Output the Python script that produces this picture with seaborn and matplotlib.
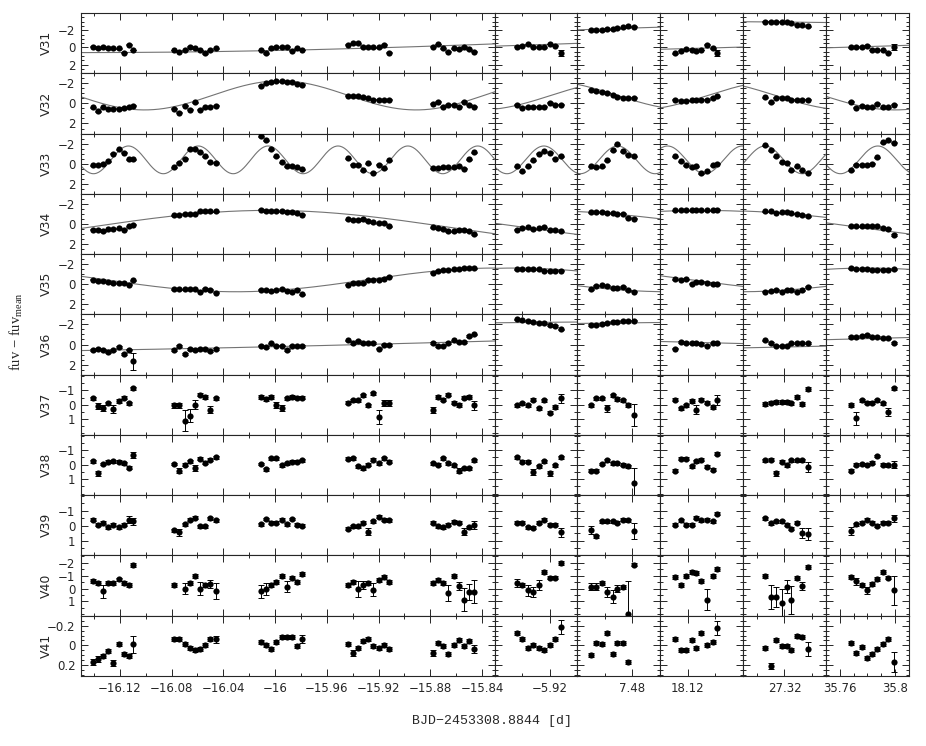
import numpy as np
import pandas as pd
import seaborn as sns
import matplotlib.pyplot as plt
from matplotlib.ticker import FixedLocator, MultipleLocator, FuncFormatter

sns.set_style("ticks")
plt.rcParams['font.family'] = ['DejaVu Sans']
plt.rcParams['mathtext.fontset'] = 'custom'
plt.rcParams['mathtext.rm'] = 'Liberation Serif'

nan = np.nan
stars = ["V31", "V32", "V33", "V34", "V35", "V36", "V37", "V38", "V39", "V40", "V41"]

# observation times: 5 runs in the wide panel, then one run per narrow panel
t_groups = [
    [-16.141, -16.137, -16.133, -16.129, -16.125, -16.121, -16.117, -16.113, -16.110],
    [-16.078, -16.074, -16.070, -16.066, -16.062, -16.058, -16.054, -16.050, -16.046],
    [-16.011, -16.007, -16.003, -15.999, -15.995, -15.991, -15.987, -15.983, -15.979],
    [-15.944, -15.940, -15.936, -15.932, -15.928, -15.924, -15.920, -15.916, -15.912],
    [-15.878, -15.874, -15.870, -15.866, -15.862, -15.858, -15.854, -15.850, -15.846],
    [-5.944, -5.940, -5.936, -5.932, -5.928, -5.924, -5.920, -5.916, -5.912],
    [7.450, 7.454, 7.458, 7.462, 7.466, 7.469, 7.473, 7.477, 7.481],
    [18.111, 18.115, 18.119, 18.123, 18.126, 18.130, 18.134, 18.138, 18.141],
    [27.306, 27.310, 27.314, 27.318, 27.322, 27.325, 27.329, 27.333, 27.337],
    [35.768, 35.772, 35.776, 35.780, 35.783, 35.787, 35.791, 35.795, 35.799],
]

mag_V31 = [
    [-0.1, 0.1, 0.0, 0.1, 0.1, 0.1, 0.6, -0.3, 0.3],
    [0.3, 0.5, 0.3, -0.1, 0.1, 0.3, 0.7, 0.3, 0.1],
    [0.3, 0.7, 0.1, -0.1, 0.0, -0.1, 0.4, 0.1, 0.3],
    [-0.3, -0.5, -0.5, -0.1, 0.0, 0.0, 0.0, -0.3, 0.6],
    [-0.1, -0.4, 0.1, 0.5, 0.1, 0.2, -0.1, 0.2, 0.5],
    [-0.1, -0.2, -0.4, -0.1, 0.0, 0.0, -0.4, -0.2, 0.6],
    [-2.0, -2.0, -2.0, -2.1, -2.1, -2.2, -2.35, -2.45, -2.4],
    [0.7, 0.4, 0.2, 0.3, 0.4, 0.3, -0.3, 0.1, 0.6],
    [-3.0, -3.0, -3.0, -2.95, -2.95, -2.8, -2.65, -2.55, -2.45],
    [0.0, 0.0, -0.1, -0.2, 0.3, 0.3, 0.3, 0.6, -0.1],
]
mag_V32 = [
    [0.4, 0.8, 0.4, 0.55, 0.55, 0.55, 0.45, 0.4, 0.25],
    [0.55, 0.95, 0.25, 0.65, -0.1, 0.65, 0.4, 0.35, 0.25],
    [-1.75, -2.0, -2.15, -2.2, -2.2, -2.15, -2.1, -1.95, -1.85],
    [-0.75, -0.75, -0.7, -0.6, -0.5, -0.35, -0.35, -0.35, -0.35],
    [0.05, -0.15, 0.35, 0.15, 0.15, 0.35, -0.15, 0.15, 0.35],
    [0.15, 0.45, 0.35, 0.35, 0.35, 0.35, -0.05, 0.15, 0.15],
    [-1.35, -1.2, -1.1, -1.05, -0.85, -0.65, -0.55, -0.55, -0.55],
    [-0.35, -0.25, -0.25, -0.3, -0.3, -0.35, -0.35, -0.55, -0.7],
    [-0.6, -0.1, -0.55, -0.55, -0.55, -0.35, -0.35, -0.35, -0.35],
    [-0.15, 0.45, 0.25, 0.4, 0.4, 0.05, 0.4, 0.4, 0.15],
]
mag_V33 = [
    [0.15, 0.1, 0.05, -0.25, -1.0, -1.45, -1.1, -0.45, -0.45],
    [0.35, -0.1, -0.5, -1.45, -1.45, -1.15, -0.75, -0.15, -0.1],
    [-2.75, -2.35, -1.45, -0.75, -0.15, 0.25, 0.25, 0.35, 0.55],
    [-0.55, 0.1, 0.1, 0.65, -0.05, 0.9, 0.1, 0.45, -0.35],
    [0.45, 0.45, 0.35, 0.35, 0.35, 0.25, 0.5, -0.45, -1.15],
    [0.25, 0.75, 0.25, -0.35, -1.0, -1.25, -1.1, -0.5, -0.75],
    [0.25, 0.35, 0.25, -0.35, -1.35, -1.95, -1.25, -0.9, -0.75],
    [-0.75, -0.25, 0.15, 0.35, 0.25, 0.95, 0.75, 0.15, 0.0],
    [-1.85, -1.35, -0.75, -0.15, -0.1, 0.65, 0.25, 0.65, 0.9],
    [0.65, 0.1, 0.1, 0.1, 0.0, -0.65, -2.15, -2.35, -2.1],
]
mag_V34 = [
    [0.6, 0.6, 0.75, 0.55, 0.5, 0.45, 0.6, 0.25, 0.1],
    [-0.85, -0.9, -1.0, -1.0, -1.0, -1.25, -1.25, -1.25, -1.25],
    [-1.4, -1.25, -1.25, -1.25, -1.25, -1.2, -1.15, -1.05, -0.9],
    [-0.45, -0.4, -0.35, -0.5, -0.25, -0.15, -0.05, -0.05, 0.25],
    [0.35, 0.45, 0.5, 0.75, 0.75, 0.6, 0.65, 0.75, 1.05],
    [0.6, 0.45, 0.35, 0.55, 0.45, 0.35, 0.65, 0.6, 0.75],
    [-1.15, -1.15, -1.2, -1.1, -1.05, -1.0, -1.0, -0.6, -0.5],
    [-1.35, -1.35, -1.35, -1.35, -1.35, -1.35, -1.35, -1.35, -1.4],
    [-1.25, -1.25, -1.1, -1.15, -1.15, -1.05, -1.0, -0.9, -0.75],
    [0.25, 0.25, 0.25, 0.25, 0.25, 0.25, 0.45, 0.5, 1.1],
]
mag_V35 = [
    [-0.45, -0.35, -0.3, -0.25, -0.1, -0.15, -0.1, 0.05, -0.4],
    [0.5, 0.5, 0.5, 0.5, 0.5, 0.75, 0.45, 0.55, 0.85],
    [0.55, 0.6, 0.65, 0.6, 0.45, 0.65, 0.75, 0.55, 1.0],
    [0.05, -0.15, -0.15, -0.1, -0.45, -0.45, -0.45, -0.55, -0.75],
    [-1.15, -1.35, -1.4, -1.45, -1.5, -1.55, -1.6, -1.6, -1.6],
    [-1.5, -1.5, -1.5, -1.5, -1.5, -1.35, -1.35, -1.35, -1.35],
    [0.5, 0.15, 0.1, 0.15, 0.35, 0.4, 0.25, 0.6, 0.75],
    [-0.5, -0.45, -0.5, -0.05, -0.25, -0.25, -0.15, 0.0, 0.0],
    [0.75, 0.65, 0.55, 0.75, 0.55, 0.6, 0.75, 0.6, 0.25],
    [-1.6, -1.55, -1.5, -1.5, -1.45, -1.45, -1.45, -1.45, -1.5],
]
mag_V36 = [
    [0.55, 0.4, 0.5, 0.75, 0.55, 0.25, 0.95, 0.5, 1.65],
    [0.55, 0.15, 0.95, 0.45, 0.55, 0.45, 0.45, 0.65, 0.45],
    [0.1, 0.25, -0.1, 0.1, 0.1, 0.55, 0.15, 0.15, 0.15],
    [-0.4, -0.15, -0.35, -0.15, -0.15, -0.15, 0.4, 0.0, 0.05],
    [-0.15, 0.15, 0.1, -0.15, -0.4, -0.25, -0.25, -0.85, -1.0],
    [-2.5, -2.4, -2.35, -2.25, -2.15, -2.1, -1.95, -1.85, -1.5],
    [-1.95, -1.95, -2.05, -2.15, -2.25, -2.25, -2.35, -2.35, -2.35],
    [0.4, -0.25, -0.1, -0.1, -0.1, -0.05, 0.1, -0.1, -0.1],
    [-0.4, -0.15, 0.1, 0.1, 0.1, -0.1, -0.15, -0.1, -0.15],
    [-0.75, -0.75, -0.85, -0.95, -0.75, -0.75, -0.6, -0.6, -0.15],
]
mag_V37 = [
    [-0.45, 0.1, 0.25, -0.1, 0.3, -0.25, -0.5, -0.1, -1.15],
    [0.05, 0.05, 1.1, 0.75, 0.0, -0.7, -0.55, 0.35, -0.45],
    [-0.55, -0.4, -0.55, 0.0, 0.25, -0.45, -0.55, -0.5, -0.5],
    [-0.15, -0.3, -0.3, -0.65, 0.05, -0.8, 0.85, -0.1, -0.1],
    [0.35, -0.55, -0.35, -0.7, -0.15, 0.0, -0.5, -0.55, 0.05],
    [0.05, -0.1, 0.05, -0.35, 0.25, -0.3, 0.55, 0.15, -0.45],
    [0.05, -0.45, -0.45, 0.25, -0.65, -0.4, -0.3, 0.0, 0.7],
    [-0.35, 0.25, 0.05, -0.25, 0.35, -0.35, -0.15, 0.15, -0.35],
    [-0.05, -0.15, -0.2, -0.2, -0.2, -0.1, -0.55, -0.05, -1.1],
    [0.0, 0.95, -0.3, -0.15, -0.15, -0.3, -0.1, 0.5, -1.15],
]
mag_V38 = [
    [-0.25, 0.6, -0.05, -0.2, -0.25, -0.2, -0.1, 0.2, -0.65],
    [-0.05, 0.4, 0.0, -0.25, 0.25, -0.4, -0.15, -0.35, -0.5],
    [-0.05, 0.3, -0.45, -0.45, 0.05, -0.1, -0.2, -0.2, -0.3],
    [-0.4, -0.45, 0.1, 0.25, 0.0, -0.35, -0.1, -0.45, -0.2],
    [-0.1, 0.0, -0.45, -0.1, 0.05, 0.4, 0.25, 0.25, -0.3],
    [-0.5, -0.2, -0.2, 0.5, 0.1, -0.25, 0.6, 0.05, -0.5],
    [0.4, 0.4, -0.05, -0.3, -0.1, -0.1, 0.0, 0.1, 1.25],
    [0.4, -0.4, -0.4, 0.1, -0.25, -0.35, 0.15, 0.35, -0.75],
    [-0.3, -0.35, 0.6, -0.2, 0.05, -0.3, -0.3, -0.3, 0.15],
    [0.4, 0.0, -0.05, 0.0, -0.15, -0.6, 0.0, 0.05, 0.0],
]
mag_V39 = [
    [-0.4, -0.05, -0.2, 0.1, -0.05, 0.1, -0.05, -0.4, -0.3],
    [0.3, 0.45, -0.1, -0.4, -0.55, 0.05, 0.05, -0.5, -0.35],
    [-0.1, -0.45, -0.2, -0.2, -0.4, -0.1, -0.45, -0.05, 0.0],
    [0.2, 0.05, 0.05, -0.2, 0.4, -0.3, -0.6, -0.4, -0.35],
    [-0.2, 0.05, 0.1, -0.05, -0.25, -0.2, 0.4, 0.1, -0.05],
    [-0.2, -0.2, 0.1, 0.15, -0.2, -0.4, -0.05, -0.05, 0.45],
    [0.3, 0.7, -0.3, -0.3, -0.3, -0.2, -0.4, -0.35, 0.35],
    [-0.05, -0.35, -0.05, -0.05, -0.55, -0.35, -0.4, -0.3, -0.8],
    [-0.5, -0.15, -0.3, -0.3, -0.05, 0.2, -0.2, 0.5, 0.55],
    [0.35, -0.1, -0.2, -0.4, -0.2, 0.0, -0.2, -0.2, -0.5],
]
mag_V40 = [
    [-0.55, -0.4, 0.2, -0.45, -0.4, -0.7, -0.4, -0.25, -1.8],
    [-0.25, nan, 0.0, -0.4, -1.0, 0.0, -0.3, -0.35, 0.2],
    [0.2, 0.05, -0.3, -0.5, -1.0, -0.15, -0.85, -0.5, -1.1],
    [-0.25, -0.5, 0.05, -0.25, -0.45, 0.1, -0.65, -0.9, -0.5],
    [-0.4, -0.65, -0.4, 0.35, -1.0, -0.2, 0.85, 0.25, 0.25],
    [-0.4, -0.25, 0.15, 0.25, -0.25, -1.25, -0.85, -0.85, -2.0],
    [-0.15, -0.15, -0.45, 0.25, 0.65, 0.0, -0.1, 2.0, -1.85],
    [-0.9, -0.25, -1.0, -1.3, -1.2, -0.55, 0.85, -1.0, -1.5],
    [-1.0, 0.65, 0.65, 1.1, -0.15, 0.9, -0.8, -0.2, -1.65],
    [-0.9, -0.55, -0.3, 0.15, -0.35, -0.75, -1.25, -0.85, 0.15],
]
mag_V41 = [
    [0.167, 0.14, 0.107, 0.057, 0.177, -0.017, 0.083, 0.11, -0.01],
    [-0.067, -0.06, -0.01, 0.027, 0.043, 0.04, -0.007, -0.06, -0.06],
    [-0.033, 0.0, 0.04, -0.033, -0.083, -0.083, -0.083, 0.007, -0.067],
    [-0.01, 0.073, 0.023, -0.04, -0.06, 0.007, 0.027, 0.0, 0.033],
    [0.073, -0.027, 0.007, 0.083, -0.007, -0.057, 0.007, -0.04, 0.033],
    [-0.123, -0.067, 0.027, 0.0, 0.027, 0.043, 0.0, -0.067, -0.19],
    [0.093, -0.027, -0.01, -0.127, 0.083, -0.023, -0.023, 0.167, nan],
    [-0.067, 0.043, 0.043, -0.05, 0.027, -0.123, 0.0, -0.033, -0.173],
    [0.027, 0.21, -0.05, 0.007, 0.01, 0.043, -0.093, -0.083, 0.04],
    [-0.023, 0.077, 0.017, 0.127, 0.083, 0.033, -0.01, -0.06, 0.167],
]

# typical error per star, and the larger individual ones {(run, point): error}
err_base = {"V31": 0.05, "V32": 0.05, "V33": 0.05, "V34": 0.05, "V35": 0.05, "V36": 0.06,
            "V37": 0.12, "V38": 0.1, "V39": 0.1, "V40": 0.15, "V41": 0.02}
bigerr_V31 = {(5, 8): 0.35, (7, 8): 0.35, (9, 8): 0.35}
bigerr_V36 = {(0, 8): 0.85}
bigerr_V37 = {(0, 1): 0.2, (0, 2): 0.2, (0, 4): 0.25, (1, 0): 0.2, (1, 1): 0.2, (1, 2): 0.75,
              (1, 3): 0.45, (1, 4): 0.3, (1, 7): 0.25, (2, 3): 0.2, (2, 4): 0.2, (3, 6): 0.5,
              (3, 7): 0.2, (3, 8): 0.2, (4, 0): 0.2, (4, 8): 0.3, (5, 8): 0.3, (6, 3): 0.25,
              (6, 8): 0.75, (7, 4): 0.3, (7, 8): 0.35, (9, 1): 0.45, (9, 7): 0.25}
bigerr_V38 = {(0, 1): 0.2, (0, 8): 0.2, (1, 1): 0.2, (1, 4): 0.2, (4, 5): 0.2, (5, 3): 0.2,
              (5, 6): 0.2, (6, 8): 1.0, (8, 2): 0.2, (8, 8): 0.35, (9, 8): 0.25}
bigerr_V39 = {(0, 7): 0.25, (0, 8): 0.25, (1, 1): 0.25, (3, 4): 0.25, (4, 6): 0.25, (4, 8): 0.25,
              (5, 8): 0.3, (6, 0): 0.25, (6, 8): 0.55, (8, 7): 0.35, (8, 8): 0.4, (9, 0): 0.25,
              (9, 8): 0.25}
bigerr_V40 = {(0, 2): 0.5, (1, 2): 0.4, (1, 5): 0.5, (1, 7): 0.3, (1, 8): 0.6, (2, 0): 0.5,
              (2, 1): 0.45, (2, 5): 0.4, (3, 2): 0.6, (3, 3): 0.3, (3, 5): 0.5, (4, 3): 0.6,
              (4, 5): 0.3, (4, 6): 0.9, (4, 7): 0.6, (4, 8): 0.9, (5, 0): 0.3, (5, 2): 0.4,
              (5, 3): 0.4, (5, 4): 0.4, (6, 0): 0.3, (6, 1): 0.3, (6, 3): 0.4, (6, 4): 0.5,
              (6, 5): 0.3, (6, 7): 2.6, (7, 6): 0.8, (8, 1): 0.9, (8, 2): 0.8, (8, 3): 1.1,
              (8, 4): 0.5, (8, 5): 1.1, (8, 7): 0.3, (9, 1): 0.25, (9, 3): 0.3, (9, 8): 1.1}
bigerr_V41 = {(0, 0): 0.03, (0, 1): 0.03, (0, 4): 0.03, (0, 8): 0.09, (1, 8): 0.04, (2, 8): 0.04,
              (3, 1): 0.03, (4, 0): 0.03, (4, 8): 0.04, (5, 8): 0.07, (7, 8): 0.07, (8, 1): 0.03,
              (8, 8): 0.07, (9, 8): 0.1}

# sine fits: phase at the centre of each of the 6 panels
fit_V31 = dict(period=1.8, mean=-1.2, amp=1.8, phase=[0.56, 1.05, 2.16, 0.77, -2.9, 0.91])
fit_V32 = dict(period=0.21, mean=-0.8, amp=1.45, phase=[3.32, 1.24, -1.54, 1.43, -1.37, -0.6])
fit_V33 = dict(period=0.054, mean=-0.38, amp=1.38, phase=[4.93, 2.47, 3.21, -0.29, 4.78, 2.27])
fit_V34 = dict(period=0.55, mean=0.3, amp=1.65, phase=[3.31, -1.45, -2.43, 3.14, -2.53, -1.48])
fit_V35 = dict(period=0.4, mean=-0.43, amp=1.18, phase=[0.63, -2.9, -0.59, -1.46, 0.52, 3.14])
fit_V36 = dict(period=2.75, mean=-0.7, amp=1.6, phase=[0.985, 2.79, 2.70, -1.25, 0.935, 1.5])

col_xlim = [(-16.15, -15.83), (-5.96, -5.90), (7.44, 7.50), (18.10, 18.16), (27.29, 27.35), (35.75, 35.81)]
col_major = [[-16.12, -16.08, -16.04, -16.0, -15.96, -15.92, -15.88, -15.84],
             [-5.92], [7.48], [18.12], [27.32], [35.76, 35.80]]
col_minor = [[-16.14, -16.10, -16.06, -16.02, -15.98, -15.94, -15.90, -15.86],
             [-5.94], [7.46], [18.14], [27.30, 27.34], [35.77, 35.78, 35.79]]

row_ylim = {"V31": (3, -4), "V32": (3, -3), "V33": (3, -3), "V34": (3, -3), "V35": (3, -3),
            "V36": (3, -3), "V37": (2.1, -2.1), "V38": (2.1, -2.05), "V39": (2.0, -2.05),
            "V40": (2.1, -2.55), "V41": (0.31, -0.3)}
row_yticks = {"V31": [-2, 0, 2], "V32": [-2, 0, 2], "V33": [-2, 0, 2], "V34": [-2, 0, 2],
              "V35": [-2, 0, 2], "V36": [-2, 0, 2], "V37": [-1, 0, 1], "V38": [-1, 0, 1],
              "V39": [-1, 0, 1], "V40": [-2, -1, 0, 1], "V41": [-0.2, 0, 0.2]}

mags = {"V31": mag_V31, "V32": mag_V32, "V33": mag_V33, "V34": mag_V34, "V35": mag_V35,
        "V36": mag_V36, "V37": mag_V37, "V38": mag_V38, "V39": mag_V39, "V40": mag_V40,
        "V41": mag_V41}
bigerrs = {"V31": bigerr_V31, "V36": bigerr_V36, "V37": bigerr_V37, "V38": bigerr_V38,
           "V39": bigerr_V39, "V40": bigerr_V40, "V41": bigerr_V41}
fits = {"V31": fit_V31, "V32": fit_V32, "V33": fit_V33, "V34": fit_V34, "V35": fit_V35,
        "V36": fit_V36}

rows = []
for s in stars:
    for g in range(10):
        for i in range(9):
            rows.append(dict(star=s, col=0 if g < 5 else g - 4, t=t_groups[g][i],
                             mag=mags[s][g][i],
                             err=bigerrs.get(s, {}).get((g, i), err_base[s])))
df = pd.DataFrame(rows)


def fmt(v, pos):
    return f"{v:g}".replace("-", "\u2212")


fig, axes = plt.subplots(11, 6, figsize=(9.26, 7.46), dpi=100,
                         gridspec_kw=dict(width_ratios=[414, 82, 83, 83, 83, 83]))
fig.subplots_adjust(left=0.0875, right=0.9816, top=0.9826, bottom=0.0938, hspace=0, wspace=0)

for r, s in enumerate(stars):
    for c in range(6):
        ax = axes[r, c]
        sub = df[(df.star == s) & (df.col == c)]
        if s in fits:
            p = fits[s]
            tt = np.linspace(col_xlim[c][0], col_xlim[c][1], 400)
            tc = 0.5 * (col_xlim[c][0] + col_xlim[c][1])
            yy = p["mean"] + p["amp"] * np.cos(2 * np.pi * (tt - tc) / p["period"] + p["phase"][c])
            ax.plot(tt, yy, color="0.45", lw=0.8, zorder=1)
        ax.errorbar(sub.t, sub.mag, yerr=sub.err, fmt="none", ecolor="black",
                    elinewidth=0.7, capsize=2, capthick=0.7, zorder=2)
        sns.scatterplot(data=sub, x="t", y="mag", ax=ax, color="black", s=20,
                        linewidth=0, zorder=3, legend=False)
        ax.set_xlabel("")
        ax.set_ylabel("")
        ax.set_xlim(col_xlim[c])
        ax.set_ylim(row_ylim[s])
        ax.xaxis.set_major_locator(FixedLocator(col_major[c]))
        ax.xaxis.set_minor_locator(FixedLocator(col_minor[c]))
        ax.yaxis.set_major_locator(FixedLocator(row_yticks[s]))
        ax.yaxis.set_minor_locator(MultipleLocator(0.05 if s == "V41" else 0.5))
        ax.xaxis.set_major_formatter(FuncFormatter(fmt))
        ax.yaxis.set_major_formatter(FuncFormatter(fmt))
        ax.tick_params(which="both", direction="in", top=True, right=True, width=0.7,
                       labelsize=8.5, labelbottom=(r == 10), labelleft=(c == 0))
        ax.tick_params(which="major", length=5, pad=4)
        ax.tick_params(which="minor", length=2.5)
        for sp in ax.spines.values():
            sp.set_linewidth(0.8)
    axes[r, 0].set_ylabel(s, fontsize=9)
    axes[r, 0].yaxis.set_label_coords(-0.068, 0.5)

fig.text(0.531, 0.034, "BJD\u22122453308.8844 [d]", ha="center", va="center",
         family="Liberation Mono", fontsize=9.5)
fig.text(0.017, 0.555, "fuv \u2212 fuv$_{\\rm mean}$", rotation=90, ha="center", va="center",
         family="Liberation Serif", fontsize=10.5)

fig.savefig("out.png", dpi=100)
